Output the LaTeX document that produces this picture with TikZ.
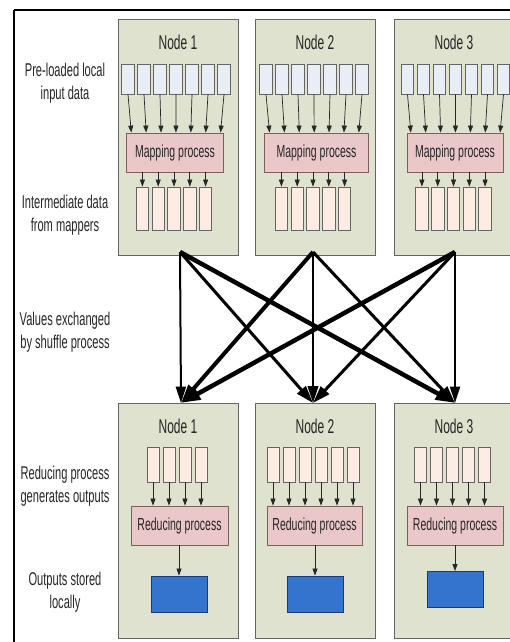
\documentclass[tikz,border=0pt]{standalone}
\usepackage{fontspec}
\setmainfont{Liberation Sans}[FakeStretch=0.6]
\usetikzlibrary{arrows.meta,calc}
\definecolor{boxfill}{RGB}{222,226,207}
\definecolor{boxline}{RGB}{100,100,100}
\definecolor{infill}{RGB}{233,237,246}
\definecolor{peach}{RGB}{252,236,228}
\definecolor{rectline}{RGB}{100,100,100}
\definecolor{procfill}{RGB}{234,199,200}
\definecolor{procline}{RGB}{125,95,95}
\definecolor{bluefill}{RGB}{52,116,206}
\definecolor{blueline}{RGB}{28,58,115}
\definecolor{txt}{RGB}{38,38,38}
\begin{document}
\begin{tikzpicture}[x=1pt,y=-1pt,
  nodebox/.style={draw=boxline, fill=boxfill, line width=1pt, minimum width=120pt, minimum height=235pt, inner sep=0pt},
  nodetitle/.style={text=txt, font=\fontsize{20}{22}\selectfont, inner sep=0pt},
  inrect/.style={draw=rectline, fill=infill, line width=0.8pt, minimum width=12.5pt, minimum height=30pt, inner sep=0pt},
  midrect/.style={draw=rectline, fill=peach, line width=0.8pt, minimum width=12.5pt, minimum height=43pt, inner sep=0pt},
  redrect/.style={draw=rectline, fill=peach, line width=0.8pt, minimum width=12pt, minimum height=35pt, inner sep=0pt},
  proc/.style={draw=procline, fill=procfill, line width=0.8pt, minimum height=39pt, inner sep=0pt, text=txt, font=\fontsize{17.5}{19}\selectfont},
  store/.style={draw=blueline, fill=bluefill, line width=0.9pt, minimum width=56pt, minimum height=36pt, inner sep=0pt},
  lab/.style={text=txt, align=center, inner sep=0pt, font=\fontsize{18.5}{22.5}\selectfont},
  tarrow/.style={-{Triangle[length=7pt,width=5pt]}, line width=0.7pt, draw=black!85},
  shuf/.style={-{Triangle[length=14pt 1.2,width=8pt 1]}, draw=black}
]
\useasboundingbox (0,0) rectangle (510,642);
\fill[white] (0,0) rectangle (510,642);
% frame
\draw[line width=2.5pt] (14,10) -- (512,10);
\draw[line width=1.2pt] (14,10) -- (14,644);

% left labels
\node[lab] (l1) at (65,83) {Pre-loaded local\\input data};
\node[lab] (l2) at (65,215) {Intermediate data\\from mappers};
\node[lab] (l3) at (65,332) {Values exchanged\\by shuffle process};
\node[lab] (l4) at (65,486) {Reducing process\\generates outputs};
\node[lab] (l5) at (65,592) {Outputs stored\\locally};

% top nodes
\foreach \n/\cx/\gc/\mc/\ic/\mw in {1/178/176/175/174/97, 2/315/314/316.5/313/104, 3/454/455.5/455/453.5/96} {
  \node[nodebox] (ta\n) at (\cx,137.5) {};
  \node[nodetitle] (tt\n) at (\cx,42) {Node \n};
  \node[proc, minimum width=\mw pt] (ta\n m) at (\mc,152.5) {Mapping process};
  \foreach \k in {1,...,7} {
    \node[inrect] (ta\n i\k) at ({\gc+(\k-4)*16},79) {};
    \draw[tarrow] (ta\n i\k.south) -- ($(ta\n m.north)!0.93!(ta\n m.north -| ta\n i\k)$);
  }
  \foreach \k in {1,...,5} {
    \node[midrect] (ta\n o\k) at ({\ic+(\k-3)*15.8},208.5) {};
    \draw[tarrow] (ta\n m.south -| ta\n o\k) -- (ta\n o\k.north);
  }
}

% bottom nodes
\foreach \n/\cx/\cnt/\gc/\rc/\rw/\sc/\sy in {1/178/4/177/179.5/97/179/594, 2/315/6/313/314.5/95/315/594, 3/454/5/452.5/455/96/455/589.5} {
  \node[nodebox] (bb\n) at (\cx,520.5) {};
  \node[nodetitle] (bt\n) at (\cx,426) {Node \n};
  \node[proc, minimum width=\rw pt] (bb\n r) at (\rc,525.5) {Reducing process};
  \foreach \k in {1,...,\cnt} {
    \node[redrect] (bb\n i\k) at ({\gc+(\k-(\cnt+1)/2)*16},464.5) {};
    \draw[tarrow] (bb\n i\k.south) -- (bb\n r.north -| bb\n i\k);
  }
  \node[store] (bb\n s) at (\sc,\sy) {};
  \draw[tarrow] (bb\n r.south -| bb\n s) -- (bb\n s.north);
}

% shuffle
\coordinate (s1) at (180,252);
\coordinate (s2) at (313,252);
\coordinate (s3) at (455,252);
\coordinate (d1) at (181,403);
\coordinate (d2) at (313,403);
\coordinate (d3) at (455,403);
\draw[shuf, line width=2pt] (s1) -- (d1);
\draw[shuf, line width=3pt] (s1) -- (d2);
\draw[shuf, line width=4.5pt] (s1) -- (d3);
\draw[shuf, line width=4pt] (s2) -- (d1);
\draw[shuf, line width=2.5pt] (s2) -- (d2);
\draw[shuf, line width=3pt] (s2) -- (d3);
\draw[shuf, line width=4.5pt] (s3) -- (d1);
\draw[shuf, line width=3pt] (s3) -- (d2);
\draw[shuf, line width=2pt] (s3) -- (d3);
\end{tikzpicture}
\end{document}
